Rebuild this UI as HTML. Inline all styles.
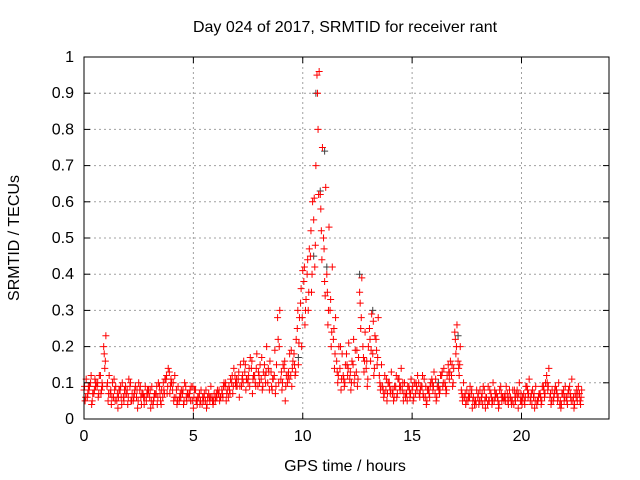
<!DOCTYPE html>
<html><head><meta charset="utf-8"><style>
body{margin:0;background:#fff}
svg{display:block;font-family:"Liberation Sans",Arial,sans-serif;font-size:16px}
</style></head><body>
<svg id="chart" width="640" height="480">
<text x="345" y="32" text-anchor="middle">Day 024 of 2017, SRMTID for receiver rant</text>
<text x="345" y="471" text-anchor="middle">GPS time / hours</text>
<text transform="translate(19,238) rotate(-90)" text-anchor="middle">SRMTID / TECUs</text>
<g id="grid"></g><g id="marks"></g><g id="axes"></g>
</svg>
<script>
const xTicks=[0,5,10,15,20];
const yTicks=[0,0.1,0.2,0.3,0.4,0.5,0.6,0.7,0.8,0.9,1];
const yTickLabels=["0","0.1","0.2","0.3","0.4","0.5","0.6","0.7","0.8","0.9","1"];
const step=0.15;
const seriesA=[.08,.06,.10,.07,.09,.12,.20,.09,.07,.06,.05,.08,.06,.07,.09,.05,.06,.08,.07,.05,.06,.04,.07,.09,.06,.11,.13,.08,.06,.05,.07,.09,.06,.05,.08,.06,.04,.05,.07,.06,.05,.07,.08,.09,.06,.10,.12,.11,.09,.13,.10,.14,.12,.09,.11,.15,.10,.13,.12,.28,.11,.14,.10,.12,.18,.25,.32,.38,.40,.45,.55,.95,.62,.50,.40,.30,.22,.16,.14,.12,.18,.11,.15,.13,.35,.20,.14,.25,.18,.22,.12,.09,.08,.10,.07,.09,.11,.08,.06,.09,.08,.07,.10,.09,.06,.08,.11,.07,.09,.12,.10,.15,.12,.24,.16,.08,.06,.05,.07,.04,.06,.05,.08,.04,.07,.05,.06,.09,.05,.07,.06,.04,.08,.05,.07,.09,.05,.06,.04,.07,.09,.12,.06,.05,.08,.04,.07,.06,.09,.05,.06,.07];
const seriesB=[.05,.09,.04,.11,.06,.08,.14,.05,.04,.08,.03,.06,.08,.04,.05,.07,.03,.06,.04,.08,.03,.06,.04,.05,.08,.07,.09,.05,.04,.07,.04,.05,.08,.03,.05,.04,.06,.03,.05,.04,.07,.05,.06,.05,.08,.07,.09,.06,.12,.08,.14,.07,.09,.12,.08,.10,.13,.08,.07,.10,.08,.05,.13,.09,.12,.15,.20,.26,.30,.35,.42,.80,.52,.38,.26,.20,.14,.10,.08,.09,.12,.08,.10,.09,.25,.13,.09,.16,.12,.15,.08,.06,.05,.07,.05,.06,.08,.05,.07,.06,.05,.09,.06,.07,.04,.06,.08,.05,.07,.09,.07,.11,.09,.18,.12,.05,.04,.07,.03,.05,.04,.07,.03,.05,.04,.06,.03,.05,.07,.04,.04,.06,.03,.05,.04,.06,.07,.03,.05,.04,.06,.08,.04,.07,.05,.03,.05,.04,.06,.03,.05,.04];
const seriesC=[.11,.09,.07,.10,.12,.09,.23,.12,.10,.09,.08,.10,.09,.11,.07,.09,.10,.07,.09,.08,.09,.07,.10,.08,.11,.14,.10,.12,.09,.08,.10,.07,.09,.08,.06,.08,.07,.06,.09,.07,.08,.06,.10,.08,.11,.14,.09,.15,.16,.11,.17,.12,.18,.15,.13,.20,.16,.11,.15,.30,.15,.12,.18,.16,.22,.28,.41,.33,.47,.60,.70,.96,.75,.64,.53,.42,.28,.20,.18,.15,.21,.16,.19,.17,.39,.24,.20,.29,.23,.28,.15,.12,.10,.13,.09,.11,.14,.10,.09,.11,.10,.12,.09,.11,.08,.10,.13,.09,.12,.14,.12,.16,.14,.26,.20,.10,.08,.09,.06,.08,.08,.09,.06,.08,.10,.07,.08,.06,.09,.08,.08,.07,.10,.06,.09,.11,.08,.09,.07,.09,.10,.14,.08,.09,.10,.07,.09,.08,.11,.07,.09,.08];
const seriesD=[.09,.07,.12,.08,.10,.07,.18,.10,.08,.11,.07,.09,.05,.08,.10,.06,.08,.09,.06,.07,.08,.05,.09,.07,.10,.12,.07,.10,.08,.06,.08,.06,.07,.09,.05,.07,.06,.08,.06,.05,.06,.08,.07,.10,.09,.12,.10,.13,.11,.15,.12,.16,.10,.13,.17,.12,.14,.09,.19,.22,.13,.16,.12,.19,.15,.30,.36,.42,.44,.52,.61,.90,.58,.47,.35,.33,.25,.13,.20,.11,.15,.13,.22,.19,.32,.17,.16,.22,.27,.19,.10,.08,.11,.09,.08,.12,.09,.10,.07,.08,.09,.10,.07,.12,.09,.07,.10,.11,.08,.13,.09,.13,.15,.22,.14,.07,.07,.06,.08,.05,.07,.06,.05,.09,.06,.08,.05,.07,.06,.05,.05,.08,.06,.07,.05,.08,.06,.07,.05,.06,.08,.10,.07,.06,.07,.05,.08,.05,.07,.06,.08,.05];
const seriesE=[.06,.08,.05,.09,.07,.10,.16,.07,.06,.05,.06,.04,.07,.06,.05,.08,.05,.04,.06,.07,.05,.07,.06,.04,.07,.09,.11,.06,.05,.06,.05,.07,.05,.06,.04,.05,.05,.04,.06,.05,.06,.06,.09,.07,.07,.09,.11,.09,.10,.11,.09,.11,.14,.10,.09,.13,.08,.11,.09,.20,.10,.09,.11,.14,.13,.21,.28,.30,.35,.40,.48,.62,.44,.34,.30,.24,.18,.12,.11,.10,.14,.10,.12,.11,.28,.16,.11,.19,.14,.17,.09,.07,.07,.08,.06,.07,.09,.07,.05,.07,.06,.08,.08,.06,.05,.09,.09,.06,.08,.10,.08,.13,.10,.20,.15,.06,.05,.06,.05,.04,.05,.04,.06,.05,.05,.07,.04,.06,.05,.06,.05,.05,.07,.04,.06,.07,.04,.05,.06,.05,.07,.09,.05,.08,.06,.04,.06,.07,.05,.04,.07,.06];
const grayTimes=[10.5,10.6,10.8,11.0,11.1,12.6,13.2,9.8,8.0,17.1,16.2];
const grayValues=[.45,.90,.63,.74,.42,.40,.30,.17,.12,.23,.10];
const L=84,R=609,T=57,B=419,XMAX=24;
const xs=v=>L+v/XMAX*(R-L), ys=v=>B-v*(B-T);
const NS="http://www.w3.org/2000/svg";
function mk(tag,attrs,parent){const e=document.createElementNS(NS,tag);for(const k in attrs)e.setAttribute(k,attrs[k]);parent.appendChild(e);return e;}
const grid=document.getElementById('grid'),marks=document.getElementById('marks'),axes=document.getElementById('axes');
xTicks.forEach(t=>{const x=xs(t);
 if(t>0){const g=mk('line',{x1:x,x2:x,y1:T,y2:B,stroke:'#a0a0a0','stroke-dasharray':'2,3'},grid);
 
 }
 mk('line',{x1:x,x2:x,y1:B,y2:B-6,stroke:'#000'},axes);mk('line',{x1:x,x2:x,y1:T,y2:T+6,stroke:'#000'},axes);
 const lb=mk('text',{x:x,y:B+22,'text-anchor':'middle'},axes);lb.textContent=t;
 
 });
yTicks.forEach((t,i)=>{const y=ys(t);
 if(t>0&&t<1){const g=mk('line',{x1:L,x2:R,y1:y,y2:y,stroke:'#a0a0a0','stroke-dasharray':'2,3'},grid);
 
 }
 mk('line',{x1:L,x2:L+6,y1:y,y2:y,stroke:'#000'},axes);mk('line',{x1:R,x2:R-6,y1:y,y2:y,stroke:'#000'},axes);
 const lb=mk('text',{x:L-10,y:y+5,'text-anchor':'end'},axes);lb.textContent=yTickLabels[i];
 
 });
const frame=mk('rect',{x:L,y:T,width:R-L,height:B-T,fill:'none',stroke:'#000'},axes);


function plus(t,v,color){const x=xs(t),y=ys(v);
 const p=mk('path',{d:`M${x-3.5},${y}h7M${x},${y-3.5}v7`,stroke:color,'stroke-width':1,fill:'none'},marks);
 
 }
grayTimes.forEach((t,i)=>plus(t,grayValues[i],'#404040'));
seriesA.forEach((v,i)=>plus(i*step,v,'#ff0000'));
seriesB.forEach((v,i)=>plus(i*step+0.05,v,'#ff0000'));
seriesC.forEach((v,i)=>plus(i*step+0.1,v,'#ff0000'));
seriesD.forEach((v,i)=>plus(i*step+0.025,v,'#ff0000'));
seriesE.forEach((v,i)=>plus(i*step+0.075,v,'#ff0000'));
</script>
</body></html>
